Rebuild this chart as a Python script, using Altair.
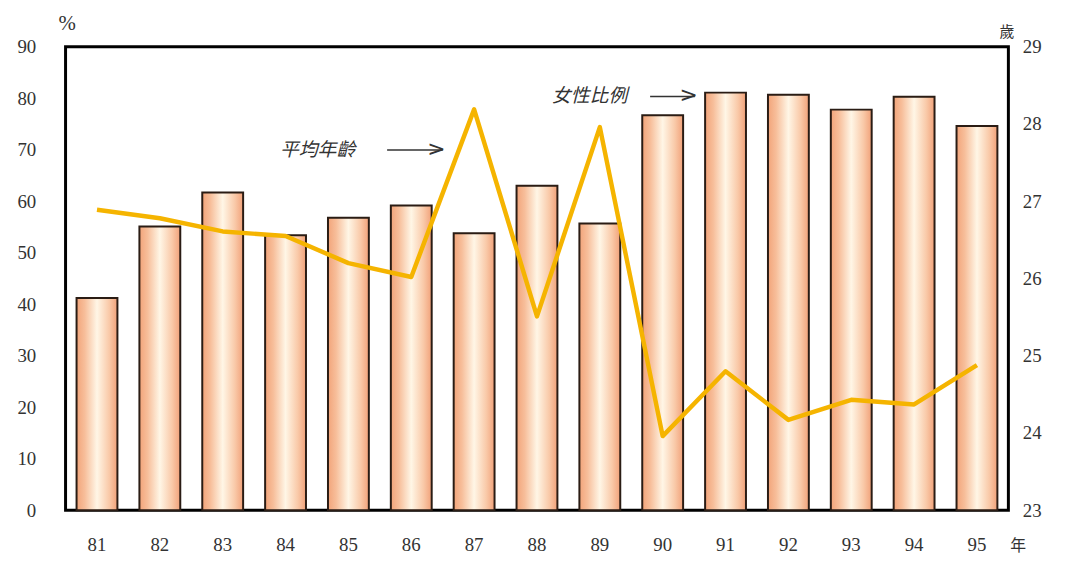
import altair as alt
import pandas as pd

years = ["81", "82", "83", "84", "85", "86", "87", "88", "89", "90", "91", "92", "93", "94", "95"]
female_ratio = [41.2, 55.1, 61.7, 53.4, 56.8, 59.2, 53.8, 63.0, 55.7, 76.7, 81.1, 80.7, 77.8, 80.3, 74.6]
avg_age = [26.89, 26.78, 26.61, 26.55, 26.20, 26.02, 28.19, 25.51, 27.96, 23.96, 24.80, 24.17, 24.43, 24.37, 24.88]

df = pd.DataFrame({"year": years, "ratio": female_ratio, "age": avg_age})

W, H = 950, 467
NUM_FONT = "Liberation Serif"
CJK = "Noto Sans CJK TC"

xenc = alt.X("year:N", sort=years,
             scale=alt.Scale(paddingInner=0.35, paddingOuter=0.175),
             axis=alt.Axis(title=None, labelAngle=0, labelPadding=26, ticks=False, domain=False,
                           labelFont=NUM_FONT, labelFontSize=19, labelColor="#333"))

grad = alt.LinearGradient(
    gradient="linear", x1=0, x2=1, y1=0, y2=0,
    stops=[alt.GradientStop(color="#F2A47A", offset=0),
           alt.GradientStop(color="#F7BE9A", offset=0.2),
           alt.GradientStop(color="#FFF6E6", offset=0.5),
           alt.GradientStop(color="#F9C9A8", offset=0.8),
           alt.GradientStop(color="#F1A179", offset=1)])

bars = alt.Chart(df).mark_bar(color=grad, stroke="#2a1c14", strokeWidth=2).encode(
    x=xenc,
    y=alt.Y("ratio:Q", scale=alt.Scale(domain=[0, 90], nice=False),
            axis=alt.Axis(title=None, values=list(range(0, 91, 10)), labelPadding=30, ticks=False,
                          domain=False, grid=False, labelFont=NUM_FONT, labelFontSize=19,
                          labelColor="#333"))
)

line = alt.Chart(df).mark_line(color="#F5B400", strokeWidth=4.5, strokeJoin="round").encode(
    x=alt.X("year:N", sort=years),
    y=alt.Y("age:Q", scale=alt.Scale(domain=[23, 29], nice=False),
            axis=alt.Axis(title=None, orient="right", values=list(range(23, 30)), labelPadding=14,
                          ticks=False, domain=False, grid=False, labelFont=NUM_FONT,
                          labelFontSize=19, labelColor="#333"))
)

def txt(s, x, y, size=17, italic=False, font=CJK, align="left"):
    return alt.Chart(df.head(1)).mark_text(
        text=s, font=font, fontSize=size, color="#333", align=align, baseline="middle",
        fontStyle="italic" if italic else "normal").encode(x=alt.value(x), y=alt.value(y))

labels = [
    txt("%", -7, -23, size=21, font=NUM_FONT),
    txt("歲", 941, -15, size=15),
    txt("年", 952, 36 + H, size=16, font=CJK),
    txt("平均年齡", 216, 104, size=19, italic=True),
    txt("女性比例", 490, 50, size=19, italic=True),
]

def arrow(x1, x2, y):
    shaft = alt.Chart(df.head(1)).mark_rule(color="#333", strokeWidth=1.5).encode(
        x=alt.value(x1), x2=alt.value(x2), y=alt.value(y))
    head = alt.Chart(df.head(1)).mark_text(text=">", font="DejaVu Sans", fontSize=22,
                                           color="#333", align="right", baseline="middle",
                                           dx=3, dy=-1).encode(x=alt.value(x2), y=alt.value(y))
    return shaft + head

chart = alt.layer(bars, line, *labels, arrow(324, 380, 104), arrow(589, 634, 50)).resolve_scale(
    y="independent"
).properties(
    width=W, height=H,
    background="white",
    autosize=alt.AutoSizeParams(type="none"),
    padding={"left": 58, "top": 37, "right": 51, "bottom": 45},
).configure_view(stroke="black", strokeWidth=3)

chart.save("out.html", embed_options={"renderer": "svg", "actions": False})
